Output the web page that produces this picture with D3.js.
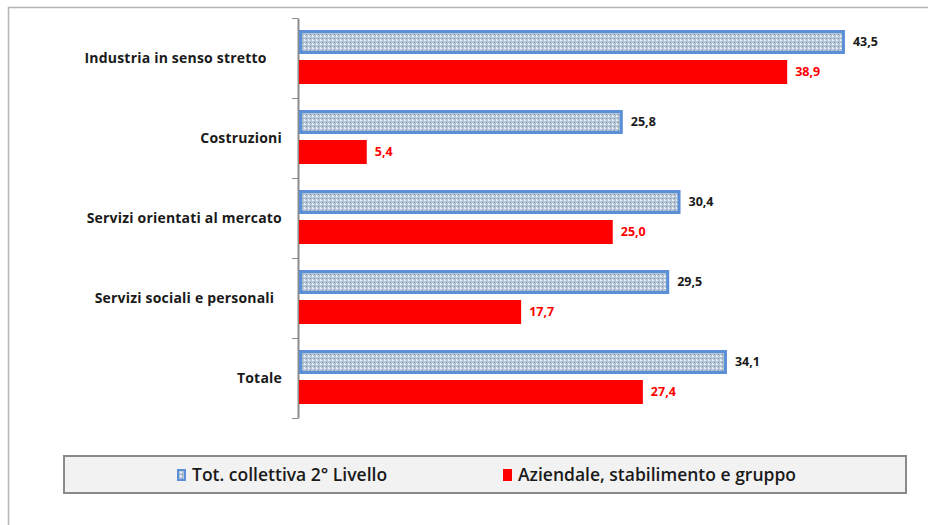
<!DOCTYPE html>
<html><head><meta charset="utf-8">
<script src="https://cdn.jsdelivr.net/npm/d3@7"></script>
<style>body{margin:0;background:#fff;} svg{display:block;font-family:"Open Sans",sans-serif;}</style>
</head><body>
<script>
const categories = ["Industria in senso stretto    ","Costruzioni","Servizi orientati al mercato","Servizi sociali e personali  ","Totale"];
const seriesNames = ["Tot. collettiva 2° Livello","Aziendale, stabilimento e gruppo"];
const totCollettiva = [43.5,25.8,30.4,29.5,34.1];
const aziendale = [38.9,5.4,25.0,17.7,27.4];

const W=928,H=525;
const svg=d3.select("body").append("svg").attr("width",W).attr("height",H);
const defs=svg.append("defs");
const pat=defs.append("pattern").attr("id","dots").attr("patternUnits","userSpaceOnUse").attr("width",4).attr("height",4);
pat.append("rect").attr("width",4).attr("height",4).attr("fill","#b3c5d4");
pat.append("rect").attr("x",0).attr("y",0).attr("width",2).attr("height",1).attr("fill","#ffffff").attr("opacity",0.8);
pat.append("rect").attr("x",2).attr("y",2).attr("width",1).attr("height",1).attr("fill","#7890a8");
pat.append("rect").attr("x",0).attr("y",3).attr("width",1).attr("height",1).attr("fill","#e6edf3");

// outer frame
svg.append("path").attr("d","M8.5,525 V7.5 H928").attr("fill","none").attr("stroke","#b5b5b5").attr("stroke-width",1.5);

const x=d3.scaleLinear().domain([0,50]).range([299,926.5]);
const y=d3.scaleBand().domain(categories).range([18,418]);

// axis
const axis=svg.append("g").attr("transform","translate(298,0)")
  .call(d3.axisLeft(y).tickSize(0).tickFormat(""));
axis.select(".domain").attr("stroke","#8c8c8c").attr("stroke-width",2);
const bounds=[18].concat(categories.map(c=>y(c)+y.bandwidth()));
svg.append("g").selectAll("line").data(bounds).join("line")
  .attr("x1",292).attr("x2",298).attr("y1",d=>d+0.5).attr("y2",d=>d+0.5)
  .attr("stroke","#8c8c8c").attr("stroke-width",1);

// category labels
svg.append("g").selectAll("text").data(categories).join("text")
  .attr("x",282).attr("y",c=>y(c)+y.bandwidth()/2).attr("dy","0.35em")
  .attr("text-anchor","end").attr("font-size",14).attr("letter-spacing",0.2).attr("font-weight","bold").attr("fill","#1a1a1a")
  .style("white-space","pre")
  .text(d=>d);

const fmt=v=>d3.format(".1f")(v).replace(".",",");

// blue bars
svg.append("g").selectAll("rect").data(totCollettiva).join("rect")
  .attr("x",x(0)+1.5).attr("y",(d,i)=>y(categories[i])+13.5)
  .attr("width",d=>x(d)-x(0)-3).attr("height",21)
  .attr("fill","url(#dots)").attr("stroke","#5b8fd8").attr("stroke-width",3);
svg.append("g").selectAll("text").data(totCollettiva).join("text")
  .attr("x",d=>x(d)+8).attr("y",(d,i)=>y(categories[i])+24).attr("dy","0.35em")
  .attr("font-size",12.5).attr("font-weight","bold").attr("fill","#1a1a1a").text(fmt);

// red bars
svg.append("g").selectAll("rect").data(aziendale).join("rect")
  .attr("x",x(0)).attr("y",(d,i)=>y(categories[i])+42)
  .attr("width",d=>x(d)-x(0)).attr("height",24).attr("fill","#ff0000");
svg.append("g").selectAll("text").data(aziendale).join("text")
  .attr("x",d=>x(d)+8).attr("y",(d,i)=>y(categories[i])+54).attr("dy","0.35em")
  .attr("font-size",12.5).attr("font-weight","bold").attr("fill","#ff0000").text(fmt);

// legend
svg.append("rect").attr("x",64).attr("y",456).attr("width",842).attr("height",37)
  .attr("fill","#f2f2f2").attr("stroke","#8a8a8a").attr("stroke-width",2);
const leg=[{x:177},{x:503}];
leg.forEach((l,i)=>{
  svg.append("rect").attr("x",l.x).attr("y",469).attr("width",9).attr("height",12)
    .attr("fill",i==0?"#5b8fd8":"#ff0000");
  if(i==0) svg.append("rect").attr("x",l.x+2).attr("y",471).attr("width",5).attr("height",8).attr("fill","url(#dots)");
  svg.append("text").attr("x",l.x+15).attr("y",475).attr("dy","0.35em")
    .attr("font-size",17.5).attr("font-weight","600").attr("fill","#1a1a1a").text(seriesNames[i]);
});
</script>
</body></html>
